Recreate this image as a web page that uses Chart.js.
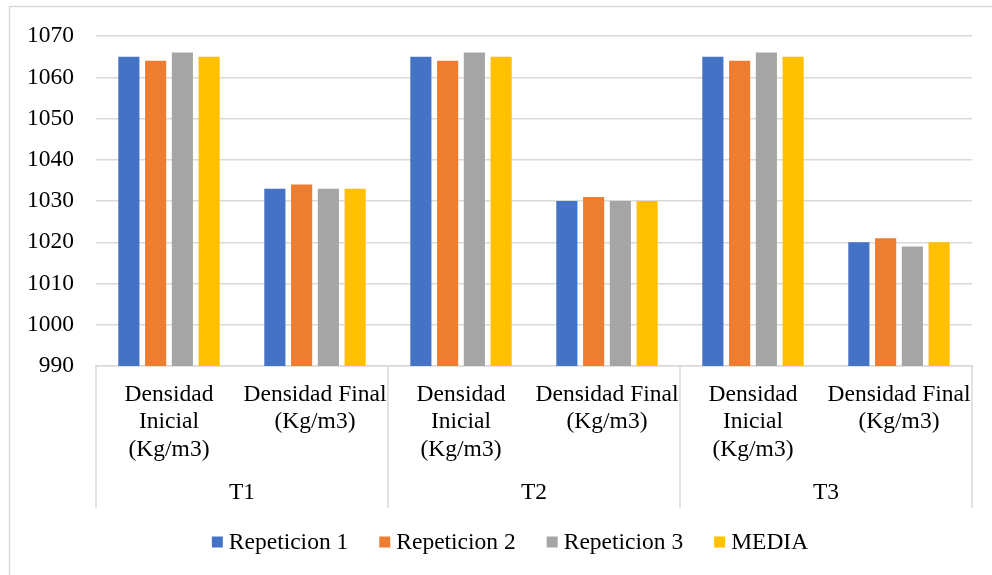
<!DOCTYPE html>
<html><head><meta charset="utf-8">
<script src="https://cdn.jsdelivr.net/npm/chart.js@4/dist/chart.umd.min.js"></script>
<style>html,body{margin:0;padding:0;background:#fff}canvas{display:block}</style>
</head><body>
<canvas id="c" width="992" height="575"></canvas>
<script>
// ---- data ----
const groups = ['T1', 'T2', 'T3'];
const categories = [
  ['Densidad', 'Inicial', '(Kg/m3)'], ['Densidad Final', '(Kg/m3)'],
  ['Densidad', 'Inicial', '(Kg/m3)'], ['Densidad Final', '(Kg/m3)'],
  ['Densidad', 'Inicial', '(Kg/m3)'], ['Densidad Final', '(Kg/m3)']
];
const categoryGroup = [0, 0, 1, 1, 2, 2];
const seriesNames = ['Repeticion 1', 'Repeticion 2', 'Repeticion 3', 'MEDIA'];
const repeticion1 = [1065, 1033, 1065, 1030, 1065, 1020];
const repeticion2 = [1064, 1034, 1064, 1031, 1064, 1021];
const repeticion3 = [1066, 1033, 1066, 1030, 1066, 1019];
const media       = [1065, 1033, 1065, 1030, 1065, 1020];
const yMin = 990, yMax = 1070, yStep = 10;

// ---- styles ----
const FONT = '"Liberation Serif", "Times New Roman", serif';
const FS = 23.5;
const colors = ['#4472C4', '#ED7D31', '#A5A5A5', '#FFC000'];
const gridColor = '#D9D9D9';
const textColor = '#000000';

Chart.defaults.font.family = FONT;
Chart.defaults.font.size = FS;
Chart.defaults.color = textColor;

const seriesValues = [repeticion1, repeticion2, repeticion3, media];

const framePlugin = {
  id: 'frame',
  beforeDraw(chart) {
    const ctx = chart.ctx;
    ctx.save();
    ctx.fillStyle = '#fff';
    ctx.fillRect(0, 0, chart.width, chart.height);
    ctx.strokeStyle = gridColor;
    ctx.lineWidth = 1.5;
    ctx.strokeRect(9.5, 6.5, chart.width + 20, chart.height + 20);
    ctx.restore();
  }
};

const groupAxisPlugin = {
  id: 'groupAxis',
  afterDraw(chart) {
    const x = chart.scales.x;
    const ca = chart.chartArea;
    const ctx = chart.ctx;
    ctx.save();
    ctx.strokeStyle = gridColor;
    ctx.lineWidth = 1.5;
    const bounds = [ca.left];
    for (let i = 1; i < categoryGroup.length; i++) {
      if (categoryGroup[i] !== categoryGroup[i - 1]) {
        bounds.push((x.getPixelForValue(i - 1) + x.getPixelForValue(i)) / 2);
      }
    }
    bounds.push(ca.right);
    bounds.forEach(bx => {
      ctx.beginPath();
      ctx.moveTo(bx, ca.bottom);
      ctx.lineTo(bx, x.bottom);
      ctx.stroke();
    });
    ctx.fillStyle = textColor;
    ctx.font = FS + 'px ' + FONT;
    ctx.textAlign = 'center';
    ctx.textBaseline = 'middle';
    groups.forEach((g, gi) => {
      const idx = categoryGroup.map((v, i) => v === gi ? i : -1).filter(i => i >= 0);
      const cx = (x.getPixelForValue(idx[0]) + x.getPixelForValue(idx[idx.length - 1])) / 2;
      ctx.fillText(g, cx, x.bottom - 15);
    });
    ctx.restore();
  }
};

const legendPlugin = {
  id: 'customLegend',
  afterDraw(chart) {
    const ctx = chart.ctx;
    ctx.save();
    ctx.font = FS + 'px ' + FONT;
    ctx.textBaseline = 'middle';
    ctx.textAlign = 'left';
    const box = 11, gapBT = 6, gapItem = 31;
    const items = chart.data.datasets.map(d => ({ label: d.label, color: d.backgroundColor, w: ctx.measureText(d.label).width }));
    const total = items.reduce((s, it) => s + box + gapBT + it.w, 0) + gapItem * (items.length - 1);
    let px = 510 - total / 2;
    const cy = 542;
    items.forEach(it => {
      ctx.fillStyle = it.color;
      ctx.fillRect(px, cy - box / 2, box, box);
      ctx.fillStyle = textColor;
      ctx.fillText(it.label, px + box + gapBT, cy + 1);
      px += box + gapBT + it.w + gapItem;
    });
    ctx.restore();
  }
};

new Chart(document.getElementById('c'), {
  type: 'bar',
  data: {
    labels: categories,
    datasets: seriesNames.map((n, i) => ({
      label: n,
      data: seriesValues[i],
      backgroundColor: colors[i],
      borderWidth: 0,
      categoryPercentage: 0.733,
      barPercentage: 0.79
    }))
  },
  options: {
    responsive: false,
    animation: false,
    devicePixelRatio: 1,
    layout: { padding: { left: 0, right: 20, top: 35, bottom: 67 } },
    plugins: { legend: { display: false }, tooltip: { enabled: false } },
    scales: {
      x: {
        grid: { display: true, drawOnChartArea: false, drawTicks: false, color: 'rgba(0,0,0,0)' },
        border: { display: true, color: gridColor, width: 1.5 },
        ticks: {
          padding: 15, maxRotation: 0, minRotation: 0, autoSkip: false,
          font: { size: FS, lineHeight: 1.17 }, color: textColor
        },
        afterFit(scale) { scale.height = 142; }
      },
      y: {
        min: yMin, max: yMax,
        grid: { color: gridColor, lineWidth: 1.5, drawTicks: false },
        border: { display: false },
        ticks: {
          stepSize: yStep, padding: 22, font: { size: FS }, color: textColor,
          callback: v => String(v)
        },
        afterFit(scale) { scale.width = 96; }
      }
    }
  },
  plugins: [framePlugin, groupAxisPlugin, legendPlugin]
});
</script>
</body></html>
